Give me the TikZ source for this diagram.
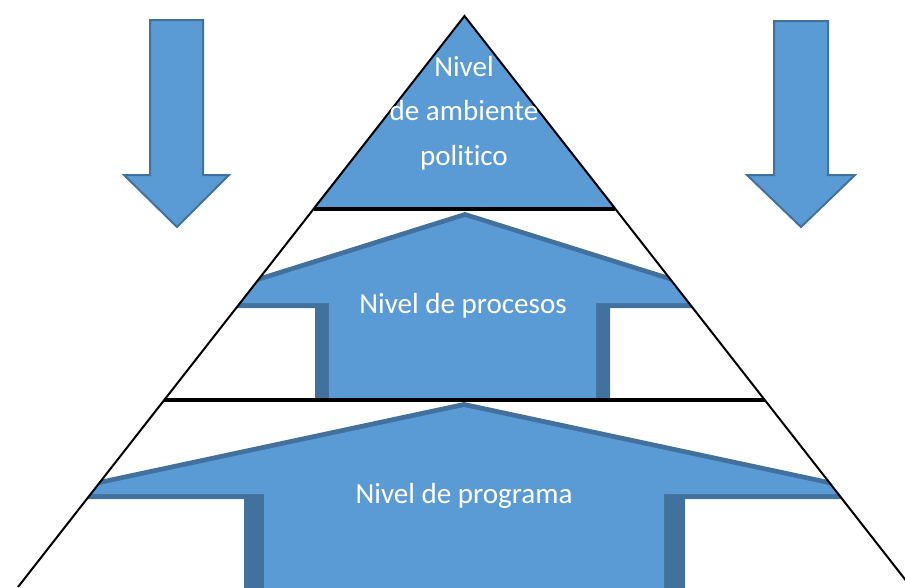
\documentclass[tikz,border=0pt]{standalone}
\usepackage{fontspec}
\setmainfont{Carlito}[Ligatures=NoCommon, RawFeature={-calt}]
\definecolor{fillblue}{HTML}{5B9BD5}
\definecolor{edgeblue}{HTML}{41719C}
\tikzset{
  label text/.style={text=white, font=\fontsize{21.8}{33}\selectfont, inner sep=0pt},
  down arrow/.style={fill=fillblue, draw=edgeblue, line width=1.5pt, line join=miter},
  band line/.style={draw=black, line width=2.4pt},
  side line/.style={draw=black, line width=1.5pt},
}
\begin{document}
\begin{tikzpicture}[x=0.75pt, y=-0.75pt]
\useasboundingbox (0,0) rectangle (905,587);

% key points of the pyramid
\coordinate (apex) at (464.5,16);
\coordinate (l1) at (313.6,209);
\coordinate (r1) at (615.4,209);
\coordinate (l2) at (164.2,400);
\coordinate (r2) at (764.8,400);
\coordinate (lb) at (18,587);
\coordinate (rb) at (911,587);

% top level: filled triangle
\fill[fillblue] (apex) -- (313.6,207) -- (615.4,207) -- cycle;

% broad arrows inside the pyramid
\begin{scope}
  \clip (apex) -- (7.8,600) -- (921.2,600) -- cycle;
  % middle arrow
  \fill[edgeblue] (465,212) -- (159,308) -- (315,308) -- (315,400)
    -- (610,400) -- (610,308) -- (771,308) -- cycle;
  \fill[fillblue] (465,217) -- (191,303) -- (329,303) -- (329,400)
    -- (596,400) -- (596,303) -- (739,303) -- cycle;
  % bottom arrow
  \fill[edgeblue] (464,402) -- (11,499) -- (244,499) -- (244,590)
    -- (685,590) -- (685,499) -- (917,499) -- cycle;
  \fill[fillblue] (464,407) -- (57,494) -- (264,494) -- (264,590)
    -- (664,590) -- (664,494) -- (871,494) -- cycle;
\end{scope}

% dividing lines and sides
\draw[band line] (l1) -- (r1);
\draw[band line] (l2) -- (r2);
\draw[side line] (lb) -- (apex) -- (rb);

% down arrows at both sides
\draw[down arrow] (150,20) -- (203,20) -- (203,175) -- (229,175) -- (177,227)
  -- (124,175) -- (150,175) -- cycle;
\draw[down arrow] (774,21) -- (828,21) -- (828,175) -- (855,175) -- (801,227)
  -- (747,175) -- (774,175) -- cycle;

% labels
\node[label text, anchor=base] (t1) at (464,76) {Nivel};
\node[label text, anchor=base] (t2) at (464,120) {de ambiente};
\node[label text, anchor=base] (t3) at (464,165) {polit\kern0pt ico};
\node[label text, anchor=base] (mid) at (463,313) {Nivel de procesos};
\node[label text, anchor=base] (bot) at (464,503) {Nivel de programa};
\end{tikzpicture}
\end{document}
